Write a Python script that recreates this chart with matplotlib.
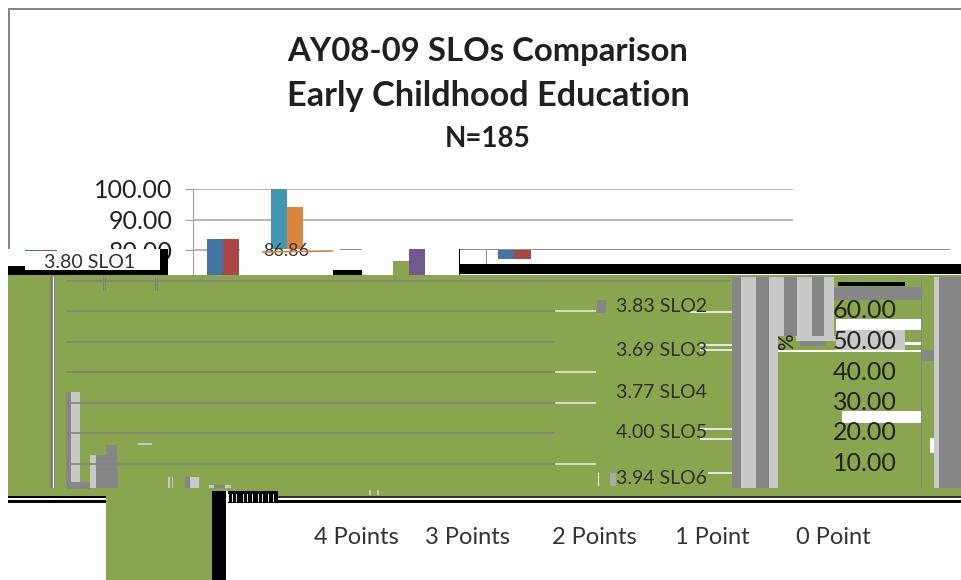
import matplotlib
matplotlib.use("Agg")
import matplotlib.pyplot as plt
import numpy as np
from matplotlib.patches import Rectangle

# The reference is a damaged Excel chart picture, so the damage is drawn on
# top of the real axes in pixel coordinates.
W, H = 962, 580
FONT = "Lato"

TITLE_LINES = ["AY08-09 SLOs Comparison", "Early Childhood Education"]
SUBTITLE = "N=185"
CATEGORIES = ["4 Points", "3 Points", "2 Points", "1 Point", "0 Point"]
SERIES = ["SLO1", "SLO2", "SLO3", "SLO4", "SLO5", "SLO6"]
MEANS = [3.80, 3.83, 3.69, 3.77, 4.00, 3.94]
SLO1 = [83.5, 14.0, 2.5, 0.0, 0.0]
SLO2 = [83.5, 16.0, 0.5, 0.0, 0.0]
SLO3 = [69.0, 31.0, 0.0, 0.0, 0.0]
SLO4 = [77.0, 23.0, 0.0, 0.0, 0.0]
SLO5 = [100.0, 0.0, 0.0, 0.0, 0.0]
SLO6 = [94.0, 6.0, 0.0, 0.0, 0.0]
UPPER_TICKS = [100, 90, 80]
LOWER_TICKS = [60, 50, 40, 30, 20, 10]
GRID_SHIFTED = [60, 50, 40, 30, 20, 10]
GRID_LONG = [70]
GRID_WHITE_END = [60, 40, 30, 10]
COLORS = ["#4573a7", "#aa4643", "#89a54e", "#71588f", "#4298af", "#db843d"]
GREEN = "#89a54e"
GREY = "#868686"
LIGHT = "#c8c8c8"

fig = plt.figure(figsize=(W / 100, H / 100), dpi=100, facecolor="white")
plt.rcParams["font.family"] = [FONT, "DejaVu Sans"]


def axes_px(left, top, right, bottom, zorder):
    ax = fig.add_axes(
        [left / W, 1 - bottom / H, (right - left) / W, (bottom - top) / H],
        zorder=zorder,
    )
    ax.patch.set_alpha(0)
    return ax


# real chart
ax = axes_px(193, 189, 793, 494, 1)
x = np.arange(len(CATEGORIES))
bar_w = 16 / 120
for i, vals in enumerate([SLO1, SLO2, SLO3, SLO4, SLO5, SLO6]):
    ax.bar(x - 0.383 + bar_w * (i + 0.5), vals, bar_w, color=COLORS[i], zorder=2)
ax.set_xlim(-0.5, 4.5)
ax.set_ylim(0, 100)
ax.set_xticks([])
ax.set_yticks(UPPER_TICKS)
ax.set_yticklabels([f"{v:.2f}" for v in UPPER_TICKS], fontsize=18, color="#222222")
ax.tick_params(axis="y", length=5.8, color="#a0a0a0", pad=9)
ax.grid(axis="y", color="#a8a8a8", linewidth=1.2, zorder=1)
ax.set_axisbelow(True)
for name in ["top", "right", "bottom"]:
    ax.spines[name].set_visible(False)
ax.spines["left"].set_color("#a0a0a0")

# damage layer, pixel coordinates with y down
g = axes_px(0, 0, W, H, 2)
g.set_xlim(0, W)
g.set_ylim(H, 0)
g.axis("off")


def rect(x0, y0, x1, y1, color, z=1):
    g.add_patch(Rectangle((x0, y0), x1 - x0, y1 - y0, fc=color, ec="none", zorder=z))


# chart frame
rect(8, 8, 10, 250, "#858585")
rect(8, 8, W, 10, "#858585")

# white band with pieces of other bars
rect(8, 249, 168, 275, "white")
rect(240, 249, 459, 275, "white")
rect(459, 249, 950, 265, "white")
rect(393, 261, 409, 275, COLORS[2], 2)
rect(409, 249, 425, 275, COLORS[3], 2)
rect(498, 250, 514, 259, COLORS[0], 2)
rect(514, 250, 531, 259, COLORS[1], 2)
rect(25, 250, 41, 251, COLORS[0], 2)
rect(41, 250, 57, 251, COLORS[1], 2)
rect(340, 249, 362, 250, "#909090", 2)
rect(459, 249, 950, 250, "#909090", 2)
rect(486, 250, 487, 265, "#909090", 2)
g.text(263, 251, "86.86", fontsize=13, color="#333333", va="center", zorder=3)
g.plot([263, 332], [252, 251], color=COLORS[5], lw=1.2, zorder=3)
g.text(325, 286, "70.00", fontsize=18, color="#222222", va="center", ha="right", zorder=3)

# black bits
rect(8, 266, 25, 275, "black", 3)
rect(25, 270, 160, 275, "black", 3)
rect(160, 249, 168, 275, "black", 3)
rect(459, 249, 460, 275, "black", 3)
rect(125, 272, 160, 275, "black", 3)
rect(459, 264, 962, 274, "black", 3)
rect(333, 270, 362, 275, "black", 3)

# green block
rect(8, 275, W, 496, GREEN, 4)
rect(106, 496, 212, H, GREEN, 4)
rect(212, 491, 226, H, "black", 5)
rect(226, 491, 228, H, "white", 5)
rect(228, 491, 278, 503, "black", 5)
for gx in [228, 232, 236, 243, 247, 252, 258, 262, 268, 273]:
    rect(gx, 494, gx + 1, 502, "#e8e8e8", 6)
rect(8, 496, 106, 498, "black", 5)
rect(8, 498, 106, 500, "white", 5)
rect(8, 500, 106, 503, "black", 5)
rect(278, 496, W, 498, "#303030", 5)
rect(278, 498, W, 500, "white", 5)
rect(278, 500, W, 503, "black", 5)
rect(50, 277, 53, 488, "#808080", 5)
rect(53, 277, 54, 488, "white", 5)
rect(54, 277, 55, 488, "#808080", 5)
for tx in [103, 105, 155, 157]:
    rect(tx, 277, tx + 1, 291, "#808080", 5)
for tx in [369, 377]:
    rect(tx, 490, tx + 2, 495, LIGHT, 5)

# stray bars on the green
rect(66, 392, 71, 489, GREY, 5)
rect(71, 392, 80, 482, LIGHT, 5)
rect(71, 482, 90, 489, GREY, 5)
rect(90, 455, 96, 488, LIGHT, 5)
rect(96, 455, 118, 488, GREY, 5)
rect(106, 445, 117, 455, GREY, 5)
rect(138, 443, 152, 445, LIGHT, 5)
rect(168, 477, 170, 488, LIGHT, 5)
rect(172, 477, 173, 488, LIGHT, 5)
rect(185, 477, 190, 488, GREY, 5)
rect(190, 477, 199, 488, LIGHT, 5)
rect(209, 485, 231, 488, LIGHT, 5)
rect(214, 485, 225, 488, GREY, 5)
rect(597, 300, 606, 313, GREY, 5)
rect(610, 473, 616, 486, "#a8a8a8", 5)
rect(598, 473, 599, 486, "white", 5)

# stripes at the right
for x0, x1, y1, col in [
    (732, 741, 488, GREY), (741, 756, 488, LIGHT), (756, 769, 488, GREY),
    (769, 778, 488, LIGHT), (778, 784, 336, LIGHT), (784, 797, 336, GREY),
    (797, 812, 336, LIGHT), (812, 824, 336, GREY), (824, 834, 336, LIGHT),
    (934, 939, 488, LIGHT), (939, W, 488, GREY),
]:
    rect(x0, 277, x1, y1, col, 5)
rect(834, 287, 921, 300, GREY, 5)
rect(834, 277, 921, 287, GREEN, 5)
rect(836, 319, 921, 330, "white", 5)
rect(836, 330, 905, 350, LIGHT, 5)
rect(796, 336, 836, 341, LIGHT, 5)
rect(800, 341, 826, 346, GREY, 5)
rect(778, 350, 921, 352, "white", 5)
rect(905, 342, 921, 345, "white", 5)
rect(842, 411, 921, 423, "white", 5)
rect(921, 350, 934, 361, GREY, 5)
rect(921, 277, 922, 488, GREY, 5)
rect(930, 438, 934, 453, "white", 5)
for wy0, wy1, wx0 in [(311, 313, 690), (344, 346, 700), (349, 351, 700),
                      (428, 430, 700), (438, 440, 700), (472, 474, 708)]:
    rect(wx0, wy0, 732, wy1, "#e4e4e4", 5)
rect(838, 282, 905, 286, "black", 6)
g.text(787, 342, "%", fontsize=15, rotation=90, color="#222222", ha="center",
       va="center", zorder=7)

# gridlines that ended up on the green, same y scale as the chart
low = axes_px(66, 189, 730, 494, 3)
low.set_xlim(66, 730)
low.set_ylim(0, 100)
low.axis("off")
low.hlines(GRID_LONG, 66, 730, color="#808080", lw=1.2)
low.hlines(GRID_SHIFTED, 66, 555, color="#808080", lw=1.2)
low.hlines(GRID_WHITE_END, 555, 596, color="#e4e4e4", lw=1.2)

top = axes_px(0, 0, W, H, 4)
top.set_xlim(0, W)
top.set_ylim(H, 0)
top.axis("off")

# tick labels that moved to the right
right = axes_px(193, 189, 897, 494, 6)
right.set_xlim(0, 1)
right.set_ylim(0, 100)
right.axis("off")
for v in LOWER_TICKS:
    right.text(1, v, f"{v:.2f}", fontsize=18, color="#222222", ha="right",
               va="center", transform=right.get_yaxis_transform())

# legend text, scattered over the picture
legend_y = [262, 306, 350, 392, 433, 479]
legend_x = [44, 616, 616, 616, 616, 616]
for name, mean, lx, ly in zip(SERIES, MEANS, legend_x, legend_y):
    top.text(lx, ly, f"{mean:.2f} {name}", fontsize=14, color="#303030",
             va="center", zorder=8)

# title and bottom labels
cat_x = [356, 468, 594, 712, 833]
for label, cx in zip(CATEGORIES, cat_x):
    top.text(cx, 538, label, fontsize=17, color="#333333", ha="center", va="center")
top.text(488, 51, TITLE_LINES[0], fontsize=23.7, fontweight="bold", color="#202020",
         ha="center", va="center")
top.text(488, 96, TITLE_LINES[1], fontsize=24.7, fontweight="bold", color="#202020",
         ha="center", va="center")
top.text(488, 139, SUBTITLE, fontsize=20, fontweight="bold", color="#202020",
         ha="center", va="center")

fig.savefig("out.png", dpi=100)
